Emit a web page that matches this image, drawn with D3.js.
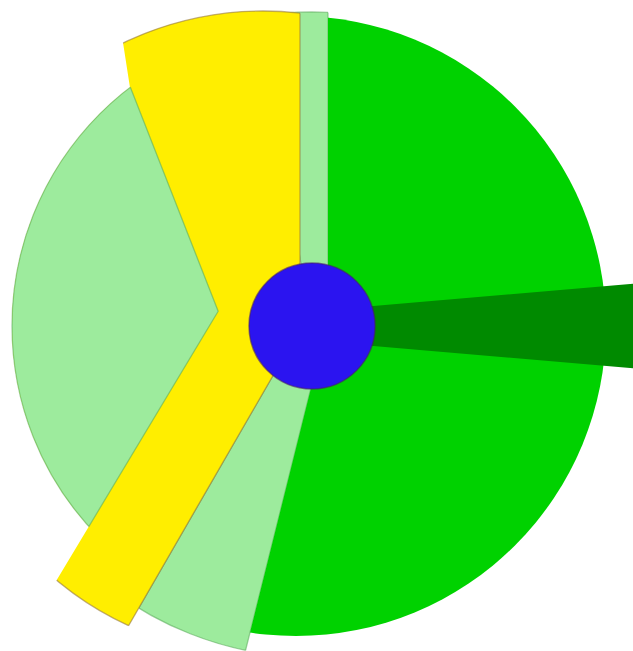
<!DOCTYPE html>
<html><head><meta charset="utf-8">
<script src="https://cdn.jsdelivr.net/npm/d3@7"></script>
<style>html,body{margin:0;padding:0;background:#fff;overflow:hidden}</style>
</head><body>
<svg id="chart" width="633" height="651"></svg>
<script>
// ---------------- data ----------------
const ringNames   = ["Green", "Pale green", "Yellow"];
const ringValues  = [194, 16, 150];        // angular share of the ring (degrees)
const ringRadius  = [310, 331, 322];       // outer radius of each ring slice
const spikeName   = "Dark green";
const spikeAngles = [85.1, 94.9];          // narrow wedge (degrees)
const innerName   = "Pale green inner";
const innerAngles = [211, 338.6];          // inner pale wedge (degrees)
const innerRadius = 300;
const stripAngles = [-10, 0];              // pale strip in the top gap (degrees)
const stripRadius = 314;
const hubRadius   = 63;

// ---------------- layout & style ----------------
const W = 633, H = 651, cx = 312, cy = 326;
const ringColors = ["#00d200", "#9deb9d", "#ffee00"];
const ringStroke = [null, "rgba(90,170,90,0.55)", "rgba(150,120,60,0.6)"];
const spikeColor = "#008a00", hubColor = "#2b14f0";
const ringPads   = [[16, 14], [-14, -9], [9, 12]];     // edge offsets (px)
const ringClipOffset = [[-16, 0], [0, 0], [-49, 7]];   // centre of outer arc
const innerPads  = [88, 82];
const stripPads  = [0, -16];
const maskAngles = [211, 351.2], maskPads = [88, 143.4];
const spikeApex  = [-172, 0];

const deg = d3.scaleLinear().domain([0, 360]).range([0, 2 * Math.PI]);
const svg = d3.select("#chart");
const defs = svg.append("defs");

function apex(a0, a1, d0, d1) {
  const n0x = Math.cos(a0), n0y = Math.sin(a0);
  const n1x = -Math.cos(a1), n1y = -Math.sin(a1);
  const det = n0x * n1y - n0y * n1x;
  return [(d0 * n1y - n0y * d1) / det, (n0x * d1 - d0 * n1x) / det];
}
const bigArc = d3.arc().innerRadius(0).outerRadius(900);

let uid = 0;
function paddedSlice(parent, a0, a1, pads, clipC, clipR, color, stroke, maskId) {
  const p = apex(a0, a1, pads[0], pads[1]);
  const tr = `translate(${cx + p[0]},${cy + p[1]})`;
  const d = bigArc({startAngle: a0, endAngle: a1});
  const cid = "c" + (uid++), sid = "s" + (uid++);
  defs.append("clipPath").attr("id", cid).attr("clipPathUnits", "userSpaceOnUse")
    .append("circle").attr("cx", clipC[0]).attr("cy", clipC[1]).attr("r", clipR);
  defs.append("clipPath").attr("id", sid).attr("clipPathUnits", "userSpaceOnUse")
    .append("path").attr("transform", tr).attr("d", d);
  const outer = parent.append("g");
  if (maskId) outer.attr("mask", `url(#${maskId})`);
  const g = outer.append("g").attr("clip-path", `url(#${cid})`);
  const path = g.append("path").attr("transform", tr).attr("d", d).attr("fill", color);
  if (stroke) {
    path.attr("stroke", stroke).attr("stroke-width", 1.3);
    outer.append("g").attr("clip-path", `url(#${sid})`)
      .append("circle").attr("cx", clipC[0]).attr("cy", clipC[1]).attr("r", clipR)
      .attr("fill", "none").attr("stroke", stroke).attr("stroke-width", 1.3);
  }
}

const pie = d3.pie().sort(null).startAngle(0).endAngle(2 * Math.PI);
const slices = pie(ringValues);

// 1. pale strip in the top gap
paddedSlice(svg, deg(stripAngles[0]), deg(stripAngles[1]), stripPads, [cx, cy], stripRadius,
  ringColors[1], ringStroke[1]);

// 2. pale lower slice, 3. green slice
[1, 0].forEach(i => {
  const s = slices[i];
  paddedSlice(svg, s.startAngle, s.endAngle, ringPads[i],
    [cx + ringClipOffset[i][0], cy + ringClipOffset[i][1]], ringRadius[i], ringColors[i], ringStroke[i]);
});

// 4. dark green spike
svg.append("path").attr("transform", `translate(${cx + spikeApex[0]},${cy + spikeApex[1]})`)
  .attr("d", d3.arc().innerRadius(0).outerRadius(700)
    ({startAngle: deg(spikeAngles[0]), endAngle: deg(spikeAngles[1])}))
  .attr("fill", spikeColor);

// 5. yellow slice with mask
const mask = defs.append("mask").attr("id", "ymask").attr("maskUnits", "userSpaceOnUse")
  .attr("x", 0).attr("y", 0).attr("width", W).attr("height", H);
mask.append("rect").attr("width", W).attr("height", H).attr("fill", "#fff");
{
  const a0 = deg(maskAngles[0]), a1 = deg(maskAngles[1]);
  const p = apex(a0, a1, maskPads[0], maskPads[1]);
  mask.append("path").attr("transform", `translate(${cx + p[0]},${cy + p[1]})`)
    .attr("d", bigArc({startAngle: a0, endAngle: a1})).attr("fill", "#000");
  mask.append("circle").attr("cx", cx).attr("cy", cy).attr("r", innerRadius).attr("fill", "#fff");
}
{
  const s = slices[2];
  paddedSlice(svg, s.startAngle, s.endAngle, ringPads[2],
    [cx + ringClipOffset[2][0], cy + ringClipOffset[2][1]], ringRadius[2], ringColors[2],
    ringStroke[2], "ymask");
}

// 6. inner pale wedge
paddedSlice(svg, deg(innerAngles[0]), deg(innerAngles[1]), innerPads, [cx, cy], innerRadius,
  ringColors[1], ringStroke[1]);

// 7. hub
svg.append("circle").attr("cx", cx).attr("cy", cy).attr("r", hubRadius)
  .attr("fill", hubColor).attr("stroke", "rgba(70,30,110,0.6)").attr("stroke-width", 1.5);
</script>
</body></html>
